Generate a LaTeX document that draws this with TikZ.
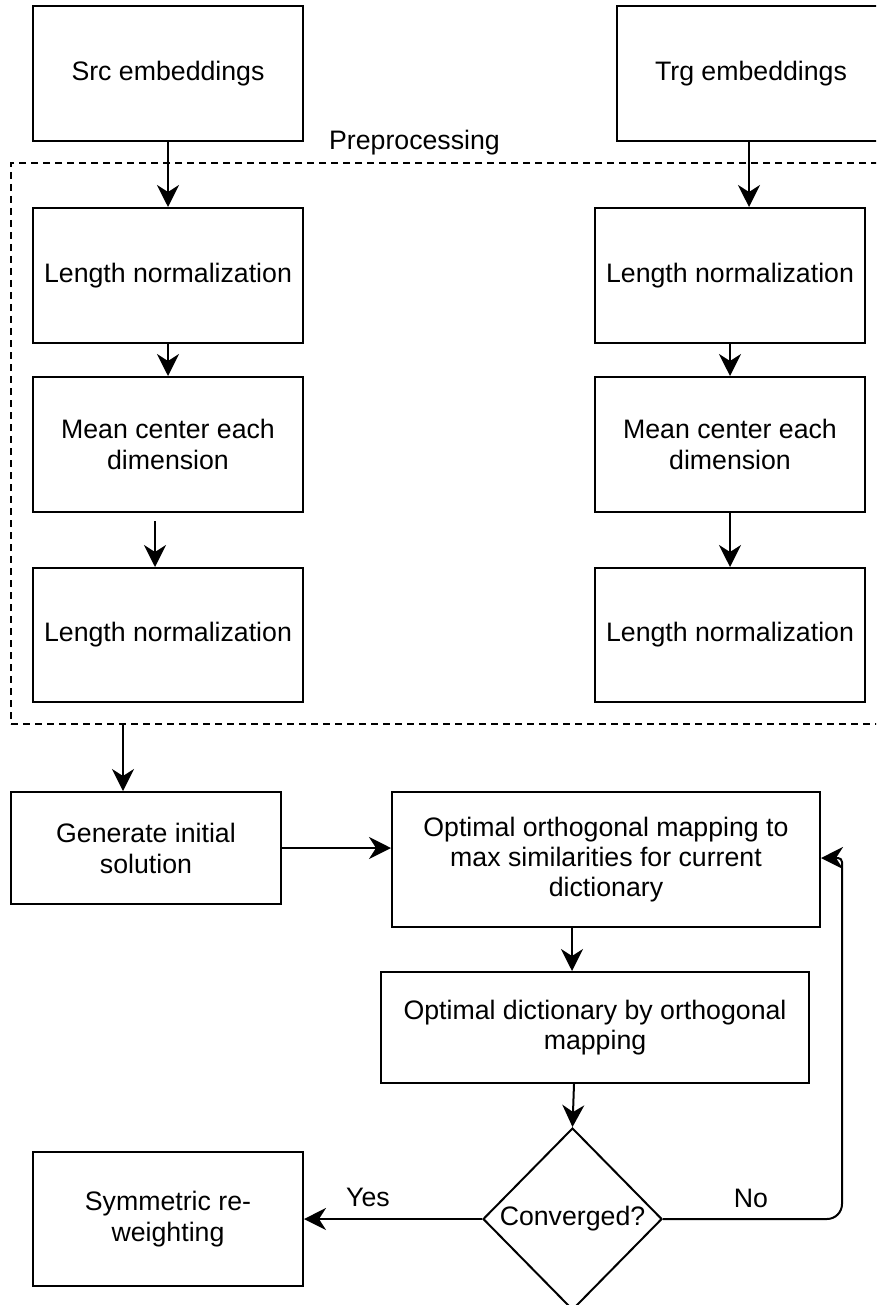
\documentclass[tikz,border=0pt]{standalone}
\usepackage{fontspec}
\setmainfont{Liberation Sans}
\usetikzlibrary{arrows.meta,shapes.geometric}
\begin{document}
\begin{tikzpicture}[x=1pt,y=-1pt,
  txt/.style={font=\fontsize{26.7}{31}\selectfont},
  box/.style={txt, draw, line width=2pt, rectangle, align=center, inner sep=0pt},
  decision/.style={txt, draw, line width=2pt, diamond, align=center, inner sep=0pt, minimum width=179pt, minimum height=182pt},
  groupbox/.style={draw, line width=1.5pt, dash pattern=on 7pt off 5pt, inner sep=0pt},
  arr/.style={line width=2pt, -{Stealth[length=22pt 0 0,width=22pt 0 0,inset=7pt 0]}}]
\useasboundingbox (0,0) rectangle (876,1305);
\clip (0,0) rectangle (876,1305);
\fill[white] (0,0) rectangle (876,1305);

% preprocessing group
\node[groupbox, minimum width=879pt, minimum height=561pt] (pre) at (450.5,443.5) {};
\node[txt, anchor=base] (prelabel) at (414.5,150) {Preprocessing};

% top boxes
\node[box, minimum width=270pt, minimum height=135pt] (src) at (168,73.5) {Src embeddings};
\node[box, minimum width=268pt, minimum height=135pt] (trg) at (751,73.5) {Trg embeddings};

% left column
\node[box, minimum width=270pt, minimum height=135pt] (lln1) at (168,275.5) {Length normalization};
\node[box, minimum width=270pt, minimum height=135pt] (lmc) at (168,444.5) {Mean center each\\dimension};
\node[box, minimum width=270pt, minimum height=134pt] (lln2) at (168,635) {Length normalization};

% right column
\node[box, minimum width=270pt, minimum height=135pt] (rln1) at (730,275.5) {Length normalization};
\node[box, minimum width=270pt, minimum height=135pt] (rmc) at (730,444.5) {Mean center each\\dimension};
\node[box, minimum width=270pt, minimum height=134pt] (rln2) at (730,635) {Length normalization};

% lower part
\node[box, minimum width=270pt, minimum height=112pt] (gen) at (146,848) {Generate initial\\solution};
\node[box, minimum width=428pt, minimum height=135pt, font=\fontsize{26.7}{30}\selectfont] (opt) at (606,859.5) {Optimal orthogonal mapping to\\max similarities for current\\dictionary};
\node[box, minimum width=428pt, minimum height=111pt, font=\fontsize{26.7}{30}\selectfont] (dict) at (595,1027.5) {Optimal dictionary by orthogonal\\mapping};
\node[decision] (conv) at (572.5,1219) {Converged?};
\node[box, minimum width=270pt, minimum height=134pt] (sym) at (168,1219) {Symmetric re-\\weighting};

% connectors
\draw[arr] (src.south) -- (lln1.north);
\draw[arr] (lln1.south) -- (lmc.north);
\coordinate (f1) at (155,521);
\draw[arr] (f1) -- (f1 |- lln2.north);

\coordinate (t1) at (749,0);
\draw[arr] (trg.south -| t1) -- (rln1.north -| t1);
\draw[arr] (rln1.south) -- (rmc.north);
\draw[arr] (rmc.south) -- (rln2.north);

\coordinate (f2) at (123,724);
\draw[arr] (f2) -- (f2 |- gen.north);
\draw[arr] (gen.east) -- (gen.east -| opt.west);
\coordinate (o1) at (572,0);
\draw[arr] (opt.south -| o1) -- (dict.north -| o1);
\coordinate (d1) at (574,0);
\draw[arr] (dict.south -| d1) -- (conv.north);
\draw[arr] (conv.west) -- (sym.east);
\coordinate (nb) at (842,1219);
\coordinate (nt) at (842,858);
\draw[arr] (conv.east) [rounded corners=15pt] -- (nb) [rounded corners=4pt] -- (nt) -- (nt -| opt.east);

\node[txt] (yes) at (368,1197) {Yes};
\node[txt] (no) at (751,1198) {No};
\end{tikzpicture}
\end{document}
